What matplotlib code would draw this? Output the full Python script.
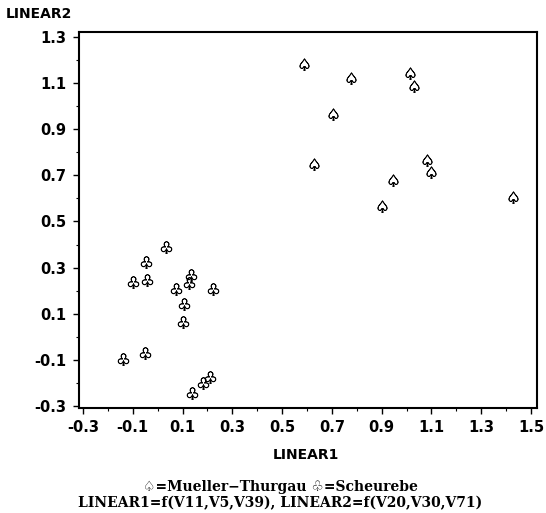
import matplotlib
matplotlib.use("Agg")
import matplotlib.pyplot as plt
from matplotlib.ticker import MultipleLocator, FixedLocator

# Mueller-Thurgau (spade symbol)
mt_x = [0.588, 0.777, 1.014, 1.030, 0.704, 0.628, 1.082, 1.098, 0.945, 0.901, 1.428]
mt_y = [1.183, 1.122, 1.144, 1.088, 0.966, 0.749, 0.767, 0.715, 0.680, 0.567, 0.606]

# Scheurebe (club symbol)
sc_x = [0.033, -0.047, -0.098, -0.044, 0.133, 0.125, 0.072, 0.222, 0.106, 0.103,
        -0.140, -0.050, 0.210, 0.182, 0.138]
sc_y = [0.391, 0.323, 0.239, 0.246, 0.268, 0.232, 0.206, 0.208, 0.142, 0.065,
        -0.095, -0.072, -0.173, -0.202, -0.245]

x_ticks = [-0.3, -0.1, 0.1, 0.3, 0.5, 0.7, 0.9, 1.1, 1.3, 1.5]
y_ticks = [-0.3, -0.1, 0.1, 0.3, 0.5, 0.7, 0.9, 1.1, 1.3]

fig = plt.figure(figsize=(5.46, 5.13), dpi=100)
ax = fig.add_axes([0.1447, 0.2047, 0.8388, 0.7329])

ax.plot(mt_x, mt_y, linestyle="none", marker="$\u2664$", markersize=8.5,
        color="black", markeredgewidth=0.5)
ax.plot(sc_x, sc_y, linestyle="none", marker="$\u2667$", markersize=8.5,
        color="black", markeredgewidth=0.5)

ax.set_xlim(-0.316, 1.524)
ax.set_ylim(-0.309, 1.322)

ax.xaxis.set_major_locator(FixedLocator(x_ticks))
ax.yaxis.set_major_locator(FixedLocator(y_ticks))
ax.xaxis.set_minor_locator(MultipleLocator(0.1))
ax.yaxis.set_minor_locator(MultipleLocator(0.1))
ax.set_xticklabels(["%g" % v for v in x_ticks])
ax.set_yticklabels(["%g" % v for v in y_ticks])

for lab in ax.get_xticklabels() + ax.get_yticklabels():
    lab.set_fontweight("bold")
    lab.set_fontsize(10.5)

ax.tick_params(which="major", direction="out", length=4, width=1.0, pad=5)
ax.tick_params(which="minor", direction="out", length=2, width=0.8)
for sp in ax.spines.values():
    sp.set_linewidth(1.5)

fig.text(0.56, 0.113, "LINEAR1", ha="center", va="center",
         fontsize=10, fontweight="bold")
fig.text(0.01, 0.972, "LINEAR2", ha="left", va="center",
         fontsize=10, fontweight="bold")

fig.text(0.513, 0.05, "\u2664=Mueller\u2212Thurgau \u2667=Scheurebe", ha="center",
         va="center", fontsize=10, fontweight="bold", family="DejaVu Serif")
fig.text(0.513, 0.019, "LINEAR1=f(V11,V5,V39), LINEAR2=f(V20,V30,V71)",
         ha="center", va="center", fontsize=10, fontweight="bold",
         family="DejaVu Serif")

fig.savefig("out.png", dpi=100)
